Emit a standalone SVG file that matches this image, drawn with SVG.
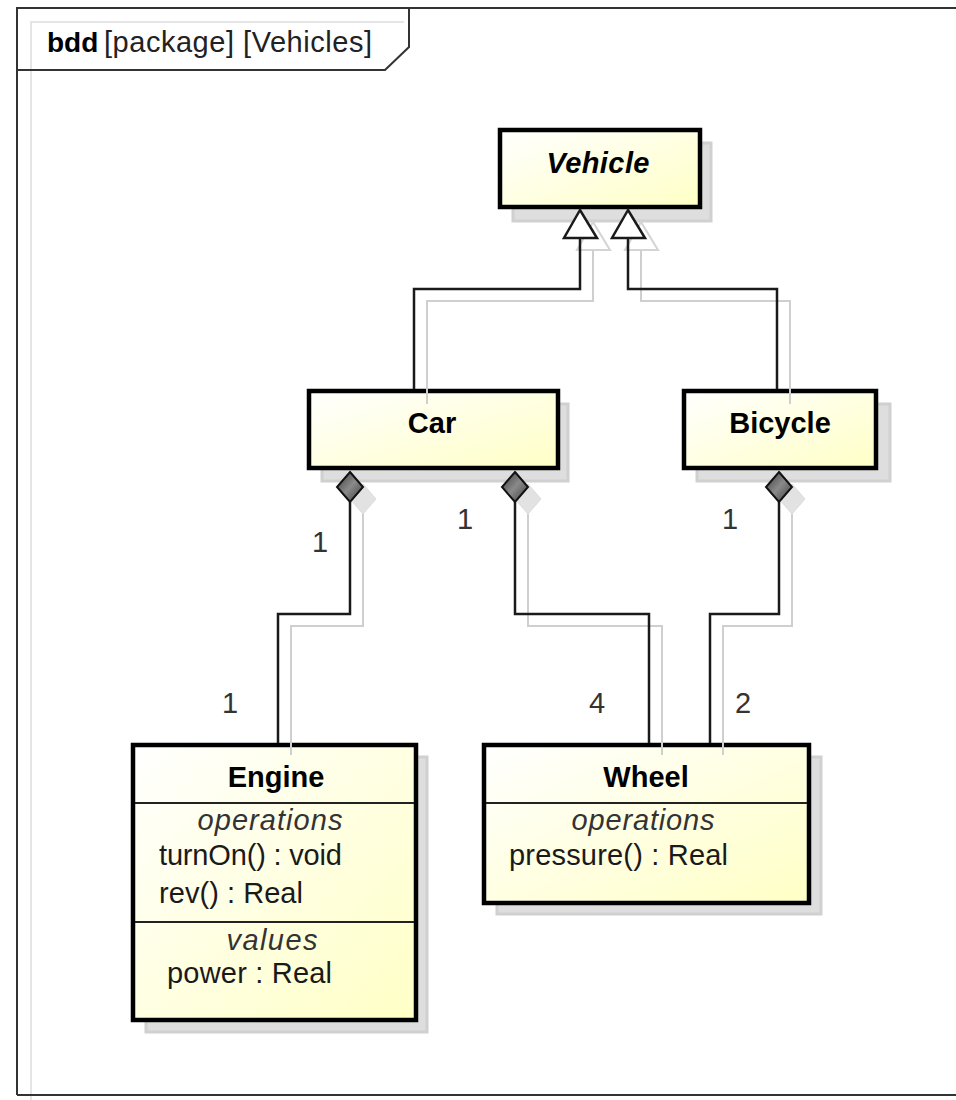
<svg xmlns="http://www.w3.org/2000/svg" width="956" height="1100" viewBox="0 0 956 1100">
  <defs>
    <linearGradient id="blockFill" x1="0" y1="0" x2="1" y2="1">
      <stop offset="0" stop-color="#ffffff"/>
      <stop offset="1" stop-color="#ffffc6"/>
    </linearGradient>
    <linearGradient id="diamondFill" x1="0" y1="0" x2="1" y2="1">
      <stop offset="0" stop-color="#3a3a3a"/>
      <stop offset="0.5" stop-color="#8a8a8a"/>
      <stop offset="1" stop-color="#3a3a3a"/>
    </linearGradient>
    <style>
      text { font-family: "Liberation Sans", Arial, sans-serif; }
      .frame { fill: none; stroke: #333333; stroke-width: 2; }
      .frameShade { fill: none; stroke: #dddddd; stroke-width: 1.5; }
      .shadow { fill: #dedede; stroke: #d0d0d0; stroke-width: 3; }
      .block { fill: url(#blockFill); stroke: #000000; stroke-width: 4.5; }
      .divider { stroke: #222222; stroke-width: 2; }
      .name { font-size: 29px; font-weight: bold; fill: #000000; text-anchor: middle; }
      .abstract { font-style: italic; }
      .section { font-size: 29px; font-style: italic; fill: #333333; text-anchor: middle; }
      .member { font-size: 29px; fill: #1a1a1a; }
      .mult { font-size: 29px; fill: #333333; text-anchor: middle; }
      .line { fill: none; stroke: #1a1a1a; stroke-width: 2.5; }
      .lineShade { fill: none; stroke: #cfcfcf; stroke-width: 2; }
      .generalization { fill: #ffffff; stroke: #1a1a1a; stroke-width: 2.5; stroke-linejoin: miter; }
      .generalizationShade { fill: none; stroke: #d4d4d4; stroke-width: 2; }
      .composite { fill: url(#diamondFill); stroke: #111111; stroke-width: 2; }
      .compositeShade { fill: #e2e2e2; stroke: #dcdcdc; stroke-width: 1; }
    </style>
  </defs>

  <rect width="956" height="1100" fill="#ffffff"/>

  <!-- diagram frame with its name tab -->
  <g id="frame">
    <path class="frameShade" d="M31,1100 V22 H404"/>
    <path class="frame" d="M17,1095 V8 H956 M956,1095 H17 M17,70 H385 L409,47 V8"/>
    <text x="47" y="52" font-size="28px" fill="#000000"><tspan font-weight="bold">bdd</tspan></text>
    <text x="104" y="52" font-size="29px" fill="#222222" textLength="268" lengthAdjust="spacing">[package] [Vehicles]</text>
  </g>

  <!-- blocks -->
  <g id="vehicle">
    <rect class="shadow" x="513" y="143" width="198" height="78"/>
    <rect class="block" x="500" y="130" width="200" height="77"/>
    <text class="name abstract" x="598" y="173" textLength="103" lengthAdjust="spacing">Vehicle</text>
  </g>

  <g id="car">
    <rect class="shadow" x="322" y="404" width="246" height="77"/>
    <rect class="block" x="309" y="391" width="249" height="77"/>
    <text class="name" x="432" y="433">Car</text>
  </g>

  <g id="bicycle">
    <rect class="shadow" x="697" y="404" width="193" height="77"/>
    <rect class="block" x="684" y="391" width="192" height="77"/>
    <text class="name" x="780" y="433">Bicycle</text>
  </g>

  <g id="engine">
    <rect class="shadow" x="146" y="757" width="281" height="275"/>
    <rect class="block" x="133" y="745" width="283" height="275"/>
    <text class="name" x="276" y="787">Engine</text>
    <line class="divider" x1="135" y1="803" x2="414" y2="803"/>
    <text class="section" x="270" y="830" textLength="145" lengthAdjust="spacing">operations</text>
    <text class="member" x="159" y="865" textLength="183" lengthAdjust="spacing">turnOn() : void</text>
    <text class="member" x="159" y="903" textLength="144" lengthAdjust="spacing">rev() : Real</text>
    <line class="divider" x1="135" y1="922" x2="414" y2="922"/>
    <text class="section" x="272" y="950" textLength="91" lengthAdjust="spacing">values</text>
    <text class="member" x="167" y="983" textLength="165" lengthAdjust="spacing">power : Real</text>
  </g>

  <g id="wheel">
    <rect class="shadow" x="497" y="757" width="324" height="157"/>
    <rect class="block" x="484" y="745" width="325" height="158"/>
    <text class="name" x="646" y="787">Wheel</text>
    <line class="divider" x1="486" y1="803" x2="807" y2="803"/>
    <text class="section" x="643" y="830" textLength="143" lengthAdjust="spacing">operations</text>
    <text class="member" x="509" y="865" textLength="219" lengthAdjust="spacing">pressure() : Real</text>
  </g>

  <!-- generalizations and composite associations -->
  <g id="connectors">
    <g id="connector-shades" transform="translate(13,12)">
      <polygon class="generalizationShade" points="580,210 564,238 597,238"/>
      <polygon class="generalizationShade" points="628,210 612,238 645,238"/>
      <path class="lineShade" d="M414,392 V289 H580 V238"/>
      <path class="lineShade" d="M777,392 V289 H628 V238"/>
      <polygon class="compositeShade" points="350,472 363,487 350,502 337,487"/>
      <polygon class="compositeShade" points="515,472 528,487 515,502 502,487"/>
      <polygon class="compositeShade" points="779,472 792,487 779,502 766,487"/>
      <path class="lineShade" d="M350,502 V614 H278 V743"/>
      <path class="lineShade" d="M515,502 V614 H649 V743"/>
      <path class="lineShade" d="M779,502 V614 H710 V743"/>
    </g>

    <g id="car-vehicle">
      <path class="line" d="M414,389 V289 H580 V238"/>
      <polygon class="generalization" points="580,210 564,238 597,238"/>
    </g>
    <g id="bicycle-vehicle">
      <path class="line" d="M777,389 V289 H628 V238"/>
      <polygon class="generalization" points="628,210 612,238 645,238"/>
    </g>

    <g id="car-engine">
      <path class="line" d="M350,502 V614 H278 V743"/>
      <polygon class="composite" points="350,472 363,487 350,502 337,487"/>
      <text class="mult" x="320" y="552">1</text>
      <text class="mult" x="230" y="713">1</text>
    </g>
    <g id="car-wheel">
      <path class="line" d="M515,502 V614 H649 V743"/>
      <polygon class="composite" points="515,472 528,487 515,502 502,487"/>
      <text class="mult" x="465" y="529">1</text>
      <text class="mult" x="597" y="713">4</text>
    </g>
    <g id="bicycle-wheel">
      <path class="line" d="M779,502 V614 H710 V743"/>
      <polygon class="composite" points="779,472 792,487 779,502 766,487"/>
      <text class="mult" x="730" y="529">1</text>
      <text class="mult" x="743" y="713">2</text>
    </g>
  </g>
</svg>
